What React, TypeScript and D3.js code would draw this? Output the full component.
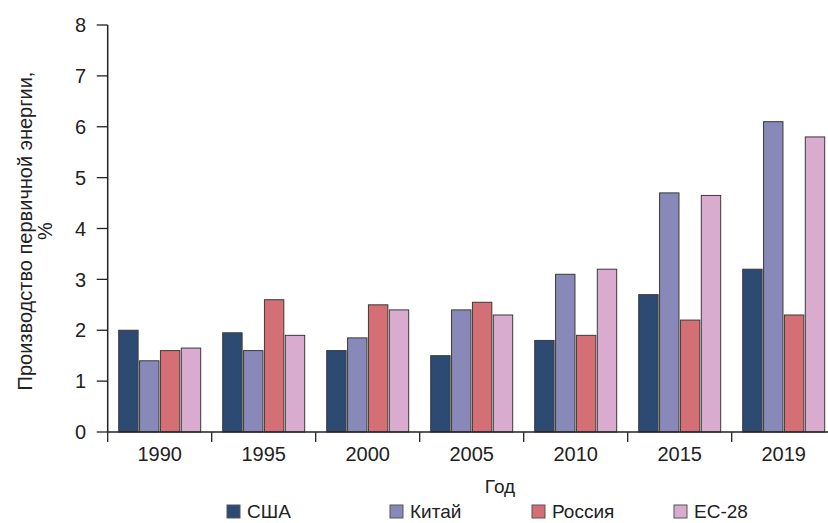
import React from 'react';
import * as d3 from 'd3';

const years = ['1990', '1995', '2000', '2005', '2010', '2015', '2019'];
const seriesNames = ['США', 'Китай', 'Россия', 'ЕС-28'];
const usa = [2.0, 1.95, 1.6, 1.5, 1.8, 2.7, 3.2];
const china = [1.4, 1.6, 1.85, 2.4, 3.1, 4.7, 6.1];
const russia = [1.6, 2.6, 2.5, 2.55, 1.9, 2.2, 2.3];
const eu28 = [1.65, 1.9, 2.4, 2.3, 3.2, 4.65, 5.8];
const yTicks = [0, 1, 2, 3, 4, 5, 6, 7, 8];
const colors = ['#2d4a73', '#8889b9', '#d56f76', '#d9abcf'];

// legend item left edges (layout, not data)
const legendX = [227, 390, 532, 674];

const W = 828;
const H = 523;
const FONT = '"Liberation Sans", Arial, sans-serif';

const App: React.FC = () => {
  const seriesValues = [usa, china, russia, eu28];

  const x = d3.scaleBand<string>()
    .domain(years)
    .range([107.7, 107.7 + 104 * years.length])
    .padding(0);

  const xInner = d3.scaleBand<string>()
    .domain(seriesNames)
    .range([11, 93])
    .paddingInner(0.07)
    .paddingOuter(0);

  const y = d3.scaleLinear().domain([0, 8]).range([432, 25]);

  const axisX0 = 107.7;
  const boundaries = years.map((yr) => x(yr)!).slice(1);

  return (
    <div style={{ position: 'fixed', left: 0, top: 0 }}>
      <svg width={W} height={H} style={{ display: 'block', background: '#fff' }} fontFamily={FONT}>
        {/* bars */}
        {years.map((yr, i) => (
          <g key={yr} transform={`translate(${x(yr)},0)`}>
            {seriesNames.map((s, j) => {
              const v = seriesValues[j][i];
              return (
                <rect
                  key={s}
                  x={xInner(s)}
                  y={y(v)}
                  width={xInner.bandwidth()}
                  height={y(0) - y(v)}
                  fill={colors[j]}
                  stroke="#3a3a3a"
                  strokeWidth={1}
                />
              );
            })}
          </g>
        ))}

        {/* y axis */}
        <line x1={axisX0} x2={axisX0} y1={y(8)} y2={y(0)} stroke="#222" strokeWidth={1.5} />
        {yTicks.map((t) => (
          <g key={t}>
            <line x1={axisX0 - 11} x2={axisX0} y1={y(t)} y2={y(t)} stroke="#222" strokeWidth={1.3} />
            <text x={86} y={y(t)} dy="0.36em" textAnchor="end" fontSize={20} fill="#222">
              {t}
            </text>
          </g>
        ))}

        {/* x axis */}
        <line x1={axisX0} x2={W} y1={y(0)} y2={y(0)} stroke="#222" strokeWidth={1.5} />
        {[axisX0, ...boundaries].map((bx, i) => (
          <line key={i} x1={bx} x2={bx} y1={y(0)} y2={y(0) + 10} stroke="#222" strokeWidth={1.3} />
        ))}
        {years.map((yr) => (
          <text
            key={yr}
            x={x(yr)! + x.bandwidth() / 2}
            y={461}
            textAnchor="middle"
            fontSize={20}
            fill="#222"
          >
            {yr}
          </text>
        ))}

        {/* axis titles */}
        <text x={500} y={493} textAnchor="middle" fontSize={19} fill="#222">Год</text>
        <g transform="translate(32,231) rotate(-90)">
          <text x={0} y={0} textAnchor="middle" fontSize={20} fill="#222">
            Производство первичной энергии,
          </text>
          <text x={0} y={20} textAnchor="middle" fontSize={20} fill="#222">%</text>
        </g>

        {/* legend */}
        {seriesNames.map((s, j) => (
          <g key={s} transform={`translate(${legendX[j]},505)`}>
            <rect x={0} y={0} width={13} height={13} fill={colors[j]} stroke="#555" strokeWidth={1} />
            <text x={20} y={13} fontSize={19} fill="#222">{s}</text>
          </g>
        ))}
      </svg>
    </div>
  );
};

export default App;
